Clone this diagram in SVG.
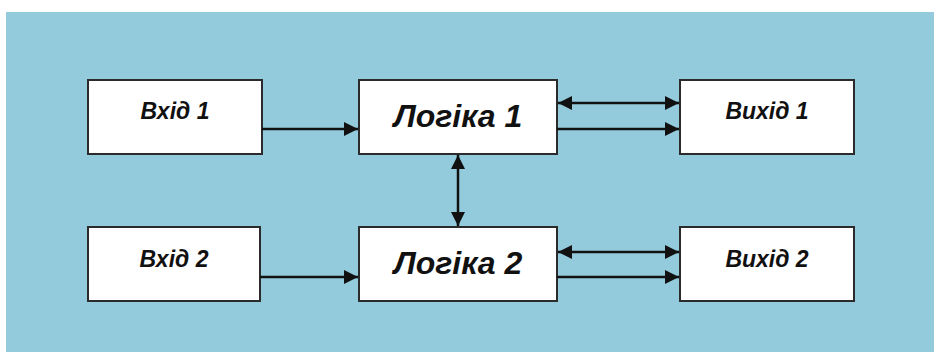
<svg xmlns="http://www.w3.org/2000/svg" width="934" height="352" viewBox="0 0 934 352">
<style>
.box{fill:#fff;stroke:#2b2b2b;stroke-width:2}
.t{font-family:"Liberation Sans",Arial,sans-serif;font-weight:bold;font-style:italic;fill:#111;text-anchor:middle}
.s{font-size:23px}
.b{font-size:32px}
.c{stroke:#111;stroke-width:2.5;fill:none}
</style>
<defs>
<marker id="ah" markerUnits="userSpaceOnUse" markerWidth="15" markerHeight="14" refX="14" refY="7" orient="auto-start-reverse" viewBox="0 0 15 14">
<path d="M0,0 L14,7 L0,14 z" fill="#111"/>
</marker>
</defs>
<rect x="0" y="0" width="934" height="352" fill="#fff"/>
<rect x="6" y="12" width="928" height="340" fill="#93cbdc"/>
<g id="in1"><rect class="box" x="88" y="80" width="174" height="74"/><text class="t s" x="175" y="119">Вхід 1</text></g>
<g id="in2"><rect class="box" x="88" y="227" width="172" height="74"/><text class="t s" x="174" y="267">Вхід 2</text></g>
<g id="logic1"><rect class="box" x="359" y="80" width="198" height="74"/><text class="t b" x="458" y="127">Логіка 1</text></g>
<g id="logic2"><rect class="box" x="359" y="227" width="198" height="74"/><text class="t b" x="458" y="274">Логіка 2</text></g>
<g id="out1"><rect class="box" x="680" y="80" width="174" height="74"/><text class="t s" x="767" y="119">Вихід 1</text></g>
<g id="out2"><rect class="box" x="680" y="227" width="174" height="74"/><text class="t s" x="767" y="267">Вихід 2</text></g>
<g id="connectors">
<line class="c" x1="262" y1="129" x2="358" y2="129" marker-end="url(#ah)"/>
<line class="c" x1="260" y1="277" x2="358" y2="277" marker-end="url(#ah)"/>
<line class="c" x1="558" y1="103" x2="679" y2="103" marker-start="url(#ah)" marker-end="url(#ah)"/>
<line class="c" x1="557" y1="129" x2="679" y2="129" marker-end="url(#ah)"/>
<line class="c" x1="558" y1="252" x2="679" y2="252" marker-start="url(#ah)" marker-end="url(#ah)"/>
<line class="c" x1="557" y1="277" x2="679" y2="277" marker-end="url(#ah)"/>
<line class="c" x1="458" y1="155" x2="458" y2="226" marker-start="url(#ah)" marker-end="url(#ah)"/>
</g>
</svg>
